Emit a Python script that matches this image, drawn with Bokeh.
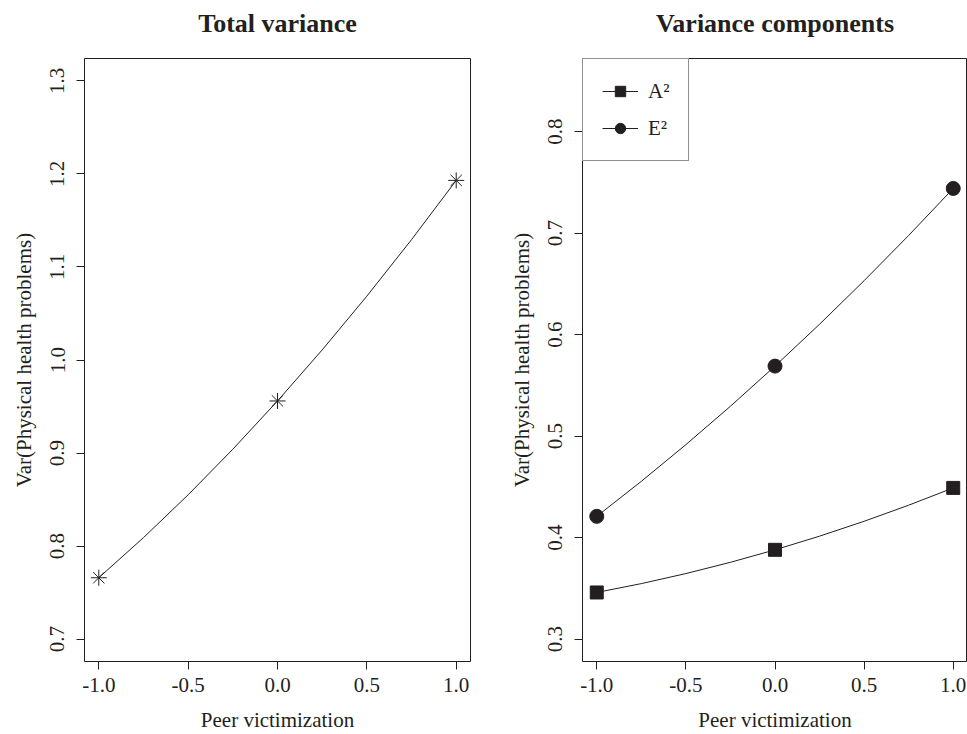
from bokeh.plotting import figure
from bokeh.layouts import row
from bokeh.models import Legend, LegendItem, FixedTicker, Range1d, NumeralTickFormatter, Title
from bokeh.embed import file_html
from bokeh.resources import INLINE

# ---------------- data ----------------
peer_victimization = [-1.0, 0.0, 1.0]
total_variance = [0.766, 0.956, 1.193]
a2_variance = [0.346, 0.388, 0.449]
e2_variance = [0.421, 0.569, 0.744]

x_ticks = [-1.0, -0.5, 0.0, 0.5, 1.0]
y_ticks_total = [0.7, 0.8, 0.9, 1.0, 1.1, 1.2, 1.3]
y_ticks_comp = [0.3, 0.4, 0.5, 0.6, 0.7, 0.8]

x_lim = (-1.0, 1.0)
y_lim_total = (0.7, 1.3)
y_lim_comp = (0.3, 0.85)

titles = ["Total variance", "Variance components"]
x_label = "Peer victimization"
y_label = "Var(Physical health problems)"
legend_labels = ["A\u00b2", "E\u00b2"]

INK = "#231f20"
FONT = "Liberation Serif"


def expand(lim, frac=0.04):
    d = (lim[1] - lim[0]) * frac
    return Range1d(lim[0] - d, lim[1] + d)


def make_fig(width, title, ylim, yticks, left_border, right_border):
    p = figure(width=width, height=734, output_backend="svg", toolbar_location=None,
               x_range=expand(x_lim), y_range=expand(ylim), title=None,
               min_border_left=left_border, min_border_right=right_border,
               min_border_top=58, min_border_bottom=72)
    # a thin spacer next to the frame, then the title above it
    p.add_layout(Title(text=" ", text_font_size="1px", standoff=18), "above")
    p.add_layout(Title(text=title, text_font=FONT, text_font_size="26px",
                       text_font_style="bold", text_color=INK, align="center",
                       standoff=0), "above")
    p.grid.visible = False
    p.background_fill_color = "white"
    p.border_fill_color = "white"
    p.outline_line_color = INK
    p.outline_line_width = 1
    p.outline_line_alpha = 1
    for ax in (p.xaxis[0], p.yaxis[0]):
        ax.axis_line_color = None
        ax.major_tick_line_color = INK
        ax.major_tick_out = 8
        ax.major_tick_in = 0
        ax.minor_tick_line_color = None
        ax.major_label_text_font = FONT
        ax.major_label_text_font_size = "21px"
        ax.major_label_text_color = INK
        ax.axis_label_text_font = FONT
        ax.axis_label_text_font_size = "21px"
        ax.axis_label_text_font_style = "normal"
        ax.axis_label_text_color = INK
        ax.formatter = NumeralTickFormatter(format="0.0")
    p.xaxis[0].ticker = FixedTicker(ticks=x_ticks)
    p.yaxis[0].ticker = FixedTicker(ticks=yticks)
    p.xaxis[0].axis_label = x_label
    p.yaxis[0].axis_label = y_label
    p.xaxis[0].major_label_standoff = 8
    p.xaxis[0].axis_label_standoff = 13
    p.yaxis[0].major_label_orientation = "vertical"
    p.yaxis[0].major_label_standoff = 12
    p.yaxis[0].axis_label_standoff = 12
    return p


def curve(p, xs, ys):
    # quadratic Bezier through the three values (control point from the data)
    cy = 2 * ys[1] - (ys[0] + ys[2]) / 2
    return p.quadratic(x0=[xs[0]], y0=[ys[0]], x1=[xs[2]], y1=[ys[2]],
                       cx=[xs[1]], cy=[cy], line_color=INK, line_width=1)


# ---------------- left panel ----------------
p1 = make_fig(506, titles[0], y_lim_total, y_ticks_total, 84, 36)
curve(p1, peer_victimization, total_variance)
p1.scatter(peer_victimization, total_variance, marker="asterisk", size=16,
           line_color=INK, line_width=1)

# ---------------- right panel ----------------
p2 = make_fig(461, titles[1], y_lim_comp, y_ticks_comp, 76, 0)
a_curve = curve(p2, peer_victimization, a2_variance)
e_curve = curve(p2, peer_victimization, e2_variance)
a_pts = p2.scatter(peer_victimization, a2_variance, marker="square", size=13,
                   fill_color=INK, line_color=INK)
e_pts = p2.scatter(peer_victimization, e2_variance, marker="circle", size=14,
                   fill_color=INK, line_color=INK)

legend = Legend(items=[LegendItem(label=legend_labels[0], renderers=[a_curve, a_pts]),
                       LegendItem(label=legend_labels[1], renderers=[e_curve, e_pts])],
                location="top_left", margin=0, padding=19, spacing=11,
                glyph_width=36, glyph_height=26, label_height=26, label_standoff=10,
                border_line_color=INK, border_line_width=1,
                background_fill_color="white", background_fill_alpha=1,
                label_text_font=FONT, label_text_font_size="21px",
                label_text_color=INK)
p2.add_layout(legend)

layout = row(p1, p2, spacing=0)
open("out.html", "w").write(file_html(layout, INLINE))
